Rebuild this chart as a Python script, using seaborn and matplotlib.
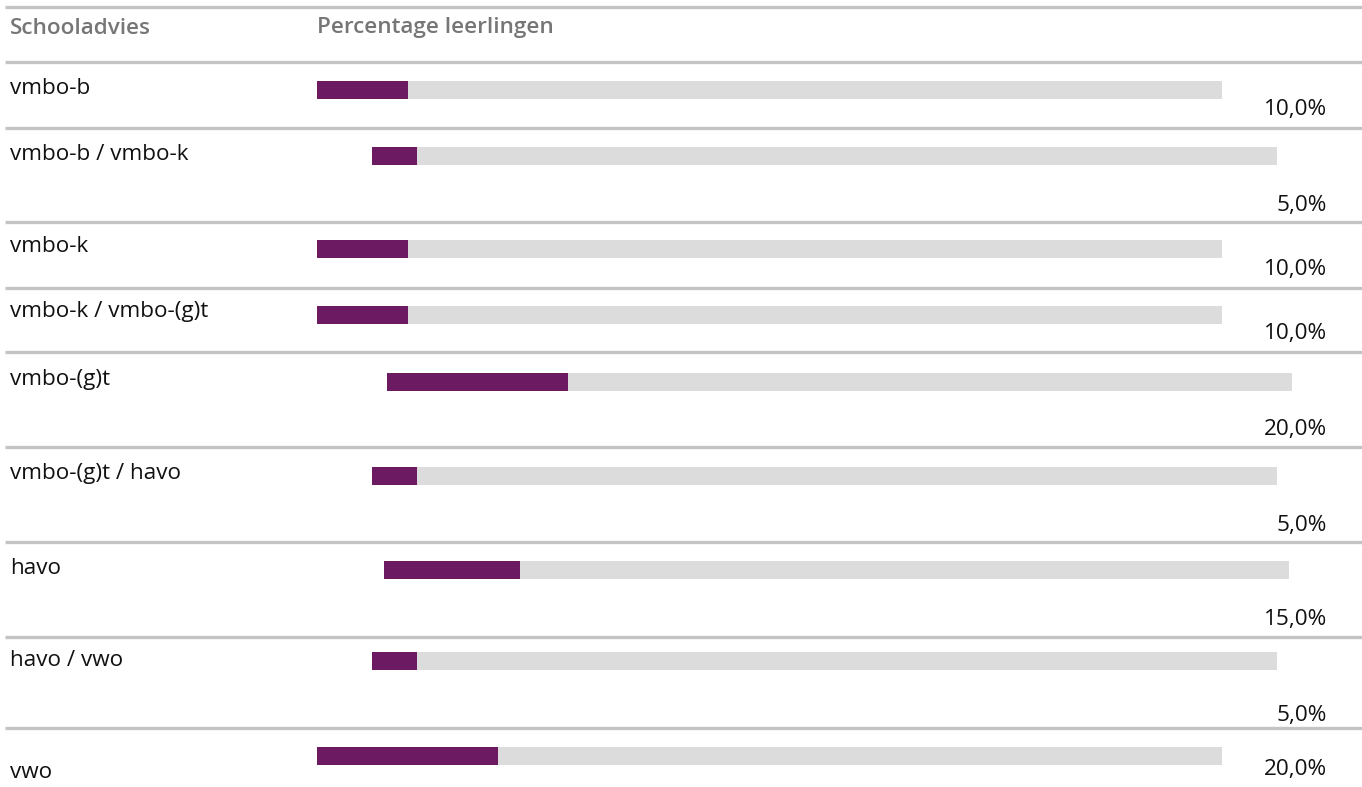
import matplotlib
matplotlib.use("Agg")
import matplotlib.pyplot as plt
import seaborn as sns

# ---- data ----
categories = ["vmbo-b", "vmbo-b / vmbo-k", "vmbo-k", "vmbo-k / vmbo-(g)t", "vmbo-(g)t",
              "vmbo-(g)t / havo", "havo", "havo / vwo", "vwo"]
percentages = [10.0, 5.0, 10.0, 10.0, 20.0, 5.0, 15.0, 5.0, 20.0]
header_labels = ["Schooladvies", "Percentage leerlingen"]

# ---- layout (pixels) ----
W, H = 1362, 787
separators_y = [7, 62, 128, 222, 288, 352, 447, 542, 637, 728]
bar_left = [317, 372, 317, 317, 387, 372, 384, 372, 317]
bar_center = [90, 156, 249, 315, 382, 476, 570, 661, 756]
cat_label_y = [88, 155, 246, 312, 380, 474, 568, 660, 773]
pct_label_y = [110, 206, 270, 334, 430, 525, 620, 715, 770]
bar_width_px = 905
bar_height_px = 18

PURPLE = "#6c1b62"
TRACK = "#dcdcdc"
LINE = "#c4c4c4"
FONT = ["Open Sans", "DejaVu Sans"]
FS = 16.2

sns.set_theme(style="white")
plt.rcParams["font.family"] = FONT

fig = plt.figure(figsize=(W / 100, H / 100), dpi=100)
ax = fig.add_axes([0, 0, 1, 1])
ax.set_xlim(0, W)
ax.set_ylim(H, 0)
ax.axis("off")

for y in separators_y:
    ax.plot([5, W], [y, y], color=LINE, lw=2.4, solid_capstyle="butt")

ax.text(10, 28, header_labels[0], color="#767676", fontsize=FS, fontweight="semibold", va="center")
ax.text(317, 28, header_labels[1], color="#767676", fontsize=FS, fontweight="semibold", va="center")

for i, (cat, val) in enumerate(zip(categories, percentages)):
    ax.text(10, cat_label_y[i], cat, color="#111111", fontsize=FS, va="center")
    label = f"{val:.1f}".replace(".", ",") + "%"
    ax.text(1327, pct_label_y[i], label, color="#111111", fontsize=FS, va="center", ha="right")

    bax = fig.add_axes([bar_left[i] / W, 1 - (bar_center[i] + bar_height_px / 2) / H,
                        bar_width_px / W, bar_height_px / H])
    sns.barplot(x=[100.0], y=[cat], color=TRACK, saturation=1, width=1, orient="h",
                linewidth=0, ax=bax)
    sns.barplot(x=[val], y=[cat], color=PURPLE, saturation=1, width=1, orient="h",
                linewidth=0, ax=bax)
    bax.set_xlim(0, 100)
    bax.set_ylim(0.5, -0.5)
    bax.axis("off")

fig.savefig("out.png", dpi=100)
